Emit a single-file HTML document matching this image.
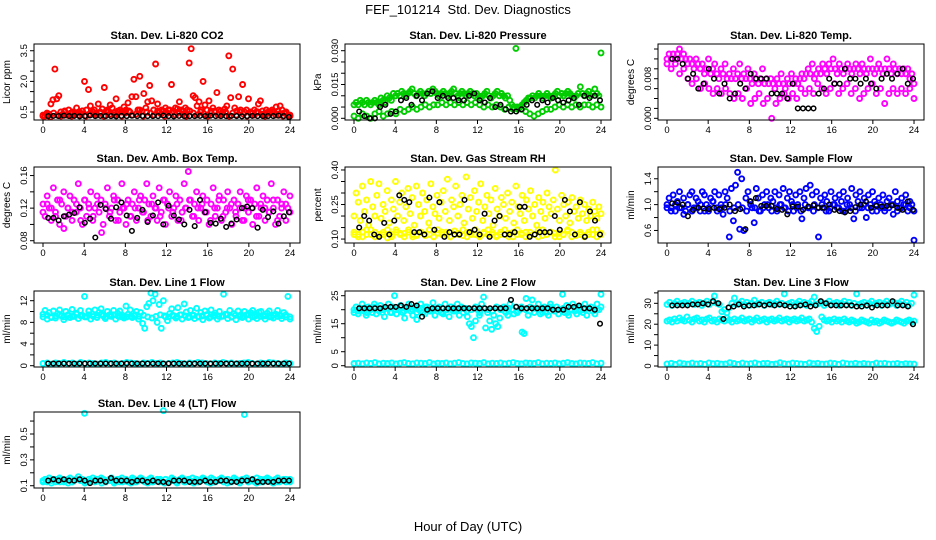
<!DOCTYPE html>
<html><head><meta charset="utf-8">
<style>
html,body{margin:0;padding:0;background:#fff;}
svg{display:block;font-family:"Liberation Sans",Arial,sans-serif;}
</style></head>
<body>
<svg id="chart" width="936" height="540" viewBox="0 0 936 540">
<text x="468" y="14" text-anchor="middle" font-size="13" xml:space="preserve">FEF_101214  Std. Dev. Diagnostics</text>
<text x="468" y="531" text-anchor="middle" font-size="13">Hour of Day (UTC)</text>
</svg>
<script>
// ---------- DATA ----------
const co2Red = [0.35,0.3,0.45,0.4,0.9,1.1,2.6,1.15,1.3,0.5,0.4,0.55,0.35,0.6,0.45,0.5,0.4,0.7,0.5,0.45,0.55,2.0,0.6,1.6,0.8,0.5,0.6,0.45,0.9,0.5,0.65,1.7,0.55,0.5,0.85,0.7,0.45,1.15,0.55,0.6,0.5,0.75,0.6,0.95,0.5,1.25,2.1,1.25,0.6,2.25,0.55,1.4,0.7,1.0,1.8,1.05,0.6,2.85,0.9,0.5,0.6,0.55,0.7,0.45,0.6,1.85,0.55,0.7,0.65,1.0,0.6,0.55,0.7,0.6,2.9,3.6,1.3,1.2,0.8,1.0,0.6,2.0,0.85,0.6,1.05,0.55,0.7,0.5,1.45,0.6,0.55,0.5,0.65,0.8,3.25,1.2,2.6,0.7,0.55,1.25,0.6,1.85,0.5,0.6,1.15,0.5,0.45,0.6,0.5,0.9,1.05,0.55,0.4,0.6,0.5,0.45,0.6,0.5,0.75,0.55,0.8,0.6,0.45,0.5,0.35,0.3];
const co2RedBase = [0.3,0.4,0.25,0.45,0.35,0.3,0.5,0.4,0.3,0.45,0.35,0.55,0.3,0.4,0.5,0.35,0.45,0.3,0.6,0.4,0.35,0.5,0.3,0.45,0.55,0.35,0.4,0.6,0.3,0.5,0.45,0.35,0.55,0.4,0.3,0.6,0.45,0.35,0.5,0.4,0.3,0.55,0.45,0.35,0.5,0.4,0.3,0.45,0.55,0.35,0.4,0.5,0.3,0.45,0.35,0.5,0.4,0.3,0.45,0.35,0.5,0.4,0.3,0.45,0.5,0.35,0.4,0.3,0.45,0.35];
const co2Black = [0.3,0.31,0.3,0.32,0.3,0.31,0.29,0.3,0.33,0.3,0.31,0.3,0.3,0.29,0.31,0.3,0.32,0.3,0.31,0.3,0.3,0.3,0.33,0.3,0.29,0.31,0.3,0.3,0.3,0.31,0.3,0.32,0.3,0.3,0.3,0.31,0.3,0.29,0.3,0.31,0.3,0.3,0.3,0.3,0.32,0.3,0.25];
const presGreenHi = [0.006,0.007,0.006,0.008,0.007,0.006,0.008,0.007,0.006,0.007,0.008,0.007,0.006,0.009,0.008,0.007,0.010,0.009,0.008,0.011,0.010,0.011,0.010,0.012,0.011,0.010,0.011,0.012,0.013,0.011,0.010,0.011,0.012,0.011,0.010,0.011,0.012,0.011,0.013,0.012,0.011,0.010,0.011,0.012,0.011,0.010,0.011,0.012,0.013,0.011,0.010,0.011,0.012,0.011,0.010,0.011,0.012,0.011,0.010,0.011,0.010,0.009,0.010,0.011,0.012,0.010,0.009,0.010,0.011,0.012,0.010,0.011,0.010,0.009,0.010,0.008,0.006,0.005,0.031,0.004,0.005,0.006,0.007,0.008,0.009,0.009,0.010,0.009,0.010,0.011,0.010,0.009,0.010,0.011,0.010,0.009,0.010,0.011,0.012,0.010,0.011,0.010,0.011,0.012,0.011,0.010,0.009,0.010,0.011,0.014,0.011,0.010,0.011,0.012,0.010,0.011,0.013,0.011,0.010,0.029];
const presGreenLo = [0.001,0.000,0.002,0.001,0.000,0.002,0.003,0.001,0.002,0.003,0.002,0.004,0.003,0.004,0.005,0.004,0.005,0.006,0.005,0.006,0.006,0.007,0.006,0.007,0.006,0.007,0.006,0.007,0.006,0.007,0.006,0.005,0.006,0.005,0.006,0.005,0.004,0.005,0.004,0.005,0.004,0.003,0.002,0.001,0.002,0.003,0.004,0.004,0.005,0.006,0.005,0.006,0.005,0.006,0.005,0.006,0.006,0.005,0.006,0.005];
const presBlack = [0.003,0.001,0.000,0.000,0.005,0.006,0.002,0.003,0.008,0.009,0.006,0.010,0.008,0.011,0.012,0.009,0.010,0.009,0.009,0.008,0.008,0.010,0.011,0.008,0.007,0.009,0.005,0.006,0.004,0.003,0.003,0.004,0.006,0.008,0.006,0.008,0.007,0.009,0.008,0.007,0.008,0.009,0.006,0.010,0.009,0.010,0.008];
const tempMagHi = [0.012,0.013,0.012,0.013,0.012,0.013,0.014,0.012,0.013,0.012,0.011,0.012,0.011,0.010,0.012,0.011,0.010,0.011,0.009,0.010,0.012,0.009,0.010,0.011,0.009,0.008,0.010,0.009,0.011,0.008,0.009,0.008,0.010,0.008,0.009,0.011,0.008,0.009,0.008,0.010,0.008,0.007,0.009,0.008,0.007,0.008,0.010,0.007,0.008,0.007,0.008,0.007,0.006,0.008,0.007,0.009,0.007,0.006,0.008,0.007,0.009,0.007,0.008,0.007,0.008,0.009,0.008,0.009,0.010,0.009,0.011,0.008,0.009,0.010,0.009,0.011,0.010,0.009,0.011,0.010,0.012,0.010,0.009,0.011,0.010,0.009,0.010,0.011,0.010,0.009,0.010,0.011,0.010,0.009,0.011,0.010,0.009,0.010,0.012,0.010,0.009,0.010,0.011,0.010,0.009,0.010,0.012,0.010,0.009,0.011,0.010,0.009,0.010,0.009,0.010,0.009,0.010,0.008,0.009,0.007];
const tempMagLo = [0.011,0.010,0.011,0.009,0.010,0.008,0.007,0.008,0.006,0.007,0.006,0.005,0.006,0.005,0.006,0.005,0.004,0.005,0.004,0.006,0.003,0.004,0.005,0.003,0.004,0.000,0.003,0.004,0.005,0.004,0.005,0.004,0.006,0.005,0.006,0.005,0.007,0.006,0.005,0.006,0.007,0.005,0.006,0.007,0.005,0.006,0.004,0.005,0.006,0.007,0.005,0.006,0.003,0.005,0.006,0.005,0.006,0.005,0.006,0.004];
const tempBlack = [0.012,0.012,0.011,0.008,0.009,0.006,0.007,0.010,0.008,0.005,0.007,0.004,0.005,0.007,0.006,0.009,0.008,0.008,0.008,0.005,0.005,0.005,0.004,0.007,0.002,0.002,0.002,0.002,0.005,0.006,0.008,0.007,0.007,0.010,0.008,0.008,0.007,0.008,0.007,0.006,0.008,0.009,0.008,0.009,0.010,0.007,0.008];
const boxMagA = [0.125,0.11,0.135,0.12,0.105,0.145,0.115,0.13,0.10,0.125,0.14,0.11,0.12,0.135,0.105,0.13,0.115,0.15,0.12,0.10,0.13,0.11,0.125,0.14,0.105,0.12,0.135,0.115,0.13,0.10,0.125,0.145,0.11,0.12,0.135,0.105,0.13,0.115,0.15,0.12,0.10,0.13,0.11,0.125,0.14,0.105,0.12,0.135,0.115,0.13,0.15,0.125,0.11,0.135,0.12,0.105,0.145,0.115,0.13,0.10,0.125,0.14,0.11,0.12,0.135,0.105,0.13,0.115,0.15,0.12,0.165,0.13,0.11,0.125,0.14,0.105,0.12,0.135,0.115,0.13,0.10,0.125,0.145,0.11,0.12,0.135,0.105,0.13,0.115,0.14,0.12,0.10,0.13,0.11,0.125,0.14,0.105,0.12,0.135,0.115,0.13,0.10,0.125,0.145,0.11,0.12,0.135,0.105,0.13,0.115,0.15,0.12,0.10,0.13,0.11,0.125,0.14,0.105,0.12,0.135];
const boxMagB = [0.115,0.125,0.12,0.11,0.13,0.095,0.12,0.115,0.125,0.105,0.13,0.12,0.11,0.125,0.09,0.12,0.115,0.13,0.105,0.12,0.125,0.11,0.12,0.13,0.115,0.105,0.125,0.12,0.11,0.13,0.12,0.115,0.125,0.105,0.12,0.13,0.11,0.12,0.125,0.115,0.105,0.12,0.13,0.11,0.12,0.125,0.115,0.12,0.105,0.13,0.12,0.11,0.125,0.12,0.115,0.13,0.105,0.12,0.125,0.115];
const boxBlack = [0.108,0.108,0.105,0.110,0.112,0.114,0.121,0.102,0.107,0.084,0.124,0.119,0.107,0.121,0.127,0.111,0.092,0.108,0.118,0.103,0.111,0.127,0.100,0.123,0.111,0.106,0.100,0.118,0.098,0.130,0.115,0.102,0.101,0.107,0.097,0.101,0.106,0.120,0.122,0.120,0.096,0.118,0.109,0.116,0.101,0.110,0.115];
const rhYellowScatter = [0.2,0.3,0.26,0.18,0.33,0.22,0.27,0.16,0.35,0.24,0.2,0.29,0.34,0.19,0.25,0.22,0.31,0.17,0.27,0.23,0.35,0.2,0.26,0.3,0.18,0.24,0.32,0.21,0.28,0.16,0.33,0.25,0.2,0.3,0.22,0.27,0.17,0.34,0.24,0.21,0.29,0.19,0.26,0.31,0.22,0.36,0.18,0.27,0.24,0.33,0.2,0.25,0.29,0.17,0.37,0.23,0.28,0.19,0.31,0.22,0.26,0.34,0.18,0.24,0.29,0.21,0.27,0.16,0.32,0.23,0.2,0.28,0.25,0.19,0.3,0.22,0.26,0.17,0.33,0.24,0.21,0.29,0.18,0.27,0.23,0.31,0.2,0.25,0.16,0.28,0.22,0.26,0.19,0.3,0.24,0.21,0.27,0.4,0.23,0.18,0.29,0.25,0.2,0.26,0.17,0.28,0.22,0.24,0.19,0.27,0.21,0.25,0.18,0.23,0.2,0.26,0.22,0.19,0.24,0.21];
const rhYellowBandA = [0.12,0.11,0.13,0.12,0.14,0.11,0.12,0.13,0.105,0.12,0.14,0.125,0.11,0.13,0.12,0.115,0.13,0.12,0.14,0.11,0.125,0.13,0.12,0.11,0.135,0.12,0.115,0.13,0.12,0.14,0.11,0.125,0.12,0.13,0.115,0.12,0.14,0.11,0.13,0.12,0.125,0.11,0.13,0.12,0.14,0.115,0.12,0.13,0.11,0.125,0.12,0.135,0.11,0.12,0.13,0.115,0.12,0.14,0.11,0.125];
const rhYellowBandB = [0.13,0.12,0.11,0.14,0.12,0.13,0.115,0.12,0.14,0.11,0.13,0.12,0.125,0.14,0.11,0.12,0.13,0.115,0.12,0.11,0.14,0.12,0.13,0.11,0.12,0.125,0.14,0.11,0.13,0.12,0.115,0.13,0.14,0.12,0.11,0.13,0.12,0.125,0.11,0.14,0.12,0.13,0.115,0.12,0.11,0.14,0.12,0.13,0.125,0.11,0.12,0.14,0.13,0.115,0.12,0.11,0.13,0.12,0.14,0.12];
const rhBlack = [0.15,0.20,0.18,0.12,0.11,0.17,0.12,0.18,0.29,0.27,0.26,0.13,0.13,0.12,0.28,0.14,0.26,0.11,0.13,0.12,0.12,0.27,0.13,0.14,0.12,0.21,0.11,0.18,0.20,0.12,0.12,0.13,0.24,0.24,0.11,0.12,0.13,0.13,0.13,0.20,0.14,0.27,0.22,0.12,0.26,0.11,0.22,0.18,0.12];
const flowBlueA = [1.0,1.1,0.95,1.15,0.9,1.05,1.2,0.95,1.1,0.9,1.0,1.15,1.2,0.95,1.1,1.05,0.9,1.2,1.15,1.0,0.9,1.1,1.05,1.2,0.95,1.15,1.0,0.85,1.2,1.1,0.5,1.25,0.75,1.3,1.5,0.62,1.4,0.6,1.1,1.2,1.05,0.95,0.72,1.25,1.1,0.9,1.15,1.0,1.2,0.95,1.1,1.05,1.2,0.9,1.15,1.0,1.25,0.95,1.1,1.2,1.05,0.9,1.15,1.0,1.2,0.78,1.1,1.25,0.95,1.3,1.15,1.0,1.2,0.5,1.1,0.95,1.15,1.05,0.9,1.2,1.0,1.1,0.95,1.15,1.05,1.2,0.9,1.1,1.0,1.25,0.78,1.15,1.05,1.2,0.95,1.1,0.8,1.15,1.0,1.2,1.05,0.9,1.1,1.0,1.15,0.95,1.05,1.1,1.0,0.85,1.2,1.05,0.95,1.1,1.0,1.15,0.9,1.05,1.0,0.45];
const flowBlueB = [0.95,0.9,1.0,0.95,0.85,1.0,0.9,0.95,1.0,0.9,0.95,1.05,0.9,0.95,1.0,0.9,0.95,1.0,0.95,0.9,1.0,0.95,0.9,0.95,1.0,0.9,0.95,1.0,0.95,0.9,1.0,0.95,0.9,1.0,0.95,0.9,0.95,1.0,0.9,0.95,1.0,0.95,0.9,1.0,0.95,0.9,0.95,1.0,0.95,0.9,1.0,0.95,0.9,0.95,1.0,0.9,0.95,1.0,0.95,0.9];
const flowBlack = [1.02,1.03,1.0,0.82,0.92,0.95,0.94,0.93,0.95,0.93,0.95,1.0,0.9,0.93,0.62,1.05,1.1,0.98,0.98,0.98,0.93,0.92,0.85,0.97,0.97,0.92,0.97,0.99,0.95,0.95,1.0,0.92,0.9,0.88,0.9,0.96,1.0,1.05,0.95,0.98,0.97,0.98,0.99,0.95,0.92,1.05,0.92];
const line1CyanA = [9.5,10.2,8.6,9.8,9.0,10.1,8.8,9.6,10.3,9.2,8.5,10.0,9.4,8.9,10.4,9.1,9.7,8.7,10.2,9.3,12.8,9.0,10.1,8.6,9.5,10.3,8.9,9.8,10.5,9.2,8.7,10.0,9.4,9.1,10.2,8.6,9.7,10.1,9.0,8.8,11.0,9.5,10.3,8.9,9.2,10.0,8.6,9.8,7.8,6.9,10.9,11.5,13.4,12.0,13.2,8.0,11.3,6.9,12.0,9.0,8.3,9.6,10.5,9.2,8.8,10.7,9.4,8.6,11.4,9.9,8.9,10.2,9.3,8.7,10.6,9.0,9.8,8.5,10.1,9.4,8.8,10.3,9.2,9.7,8.6,10.0,9.1,13.2,9.5,8.7,10.2,9.0,9.6,8.5,10.1,9.3,8.9,10.0,9.4,8.6,9.8,10.2,9.1,8.7,9.9,10.0,9.2,8.6,9.7,10.1,9.0,8.8,9.5,10.2,9.3,8.7,9.8,9.0,12.8,8.6];
const line1CyanB = [9.0,9.3,8.9,9.2,9.4,9.0,9.3,9.1,9.5,9.2,9.0,9.4,9.1,9.3,9.5,9.0,9.2,9.4,9.1,9.3,9.0,9.2,9.4,9.1,9.3,9.0,8.8,9.1,9.4,9.2,9.0,9.3,9.1,9.4,9.2,9.0,9.3,9.1,9.2,9.4,9.0,9.3,9.1,9.2,9.4,9.0,9.3,9.1,9.2,9.4,9.0,9.3,9.1,9.2,9.0,9.3,9.1,9.2,9.4,9.0];
const line1CyanLow = [0.4,0.5,0.3,0.5,0.4,0.6,0.4,0.5,0.3,0.6,0.4,0.5,0.4,0.3,0.5,0.6,0.4,0.5,0.3,0.4,0.6,0.5,0.4,0.3,0.5,0.4,0.6,0.4,0.5,0.3,0.4,0.5,0.6,0.4,0.3,0.5,0.4,0.6,0.5,0.4,0.3,0.5,0.4,0.6,0.4,0.5,0.3,0.4,0.5,0.6,0.4,0.3,0.5,0.4,0.6,0.5,0.4,0.3,0.5,0.4];
const line1Black = [0.4,0.4,0.4,0.4,0.4,0.4,0.4,0.4,0.4,0.4,0.4,0.4,0.4,0.4,0.4,0.4,0.4,0.4,0.4,0.4,0.4,0.4,0.4,0.4,0.4,0.4,0.4,0.4,0.4,0.4,0.4,0.4,0.4,0.4,0.4,0.4,0.4,0.4,0.4,0.4,0.4,0.4,0.4,0.4,0.4,0.4,0.4];
const line2CyanA = [19,21,18.5,20,22,19.5,18,21,20.5,19,22,18.5,20,21.5,19,17.5,20.5,22,19,21,25,18.5,20,21.5,19,17,20.5,22,19.5,18,21,16.5,20,22,19,18.5,21,20,19.5,22.5,18,20.5,21,19,18.5,22,20,17.5,21,19.5,20,22,18,21,19,20.5,17.5,15,14,10,16,20,18,22,24.5,13.5,19,16,13,18,15,14,17,20.5,21,19,18,22,20,18.5,21,19.5,20,12,11.5,24,18,21,23.5,19,20.5,22,18.5,20,21,19,18,22,20.5,19.5,21,18.5,20,25.5,19,21.5,18,20,22,19.5,18.5,21,20,19,22,18,20.5,21,19.5,18.5,22,20,25.5];
const line2CyanB = [20,19.5,20.5,19,20,21,19.5,20,20.5,19,20,21,19.5,20.5,20,19,20.5,21,19.5,20,20.5,19,20,21,19.5,20,20.5,19.5,20,21,19,20.5,20,19.5,21,20,19.5,20.5,20,19,21,20,19.5,20.5,20,19,20.5,21,19.5,20,20.5,19,20,21,19.5,20,20.5,19.5,20,21];
const line2CyanLow = [0.8,0.9,0.7,1.0,0.8,1.1,0.7,0.9,0.8,1.0,0.7,0.9,1.1,0.8,0.7,1.0,0.9,0.8,1.1,0.7,0.9,0.8,1.0,0.7,0.9,1.1,0.8,0.7,1.0,0.9,0.8,1.1,0.7,0.9,0.8,1.0,0.7,0.9,1.1,0.8,0.7,1.0,0.9,0.8,1.1,0.7,0.9,0.8,1.0,0.7,0.9,1.1,0.8,0.7,1.0,0.9,0.8,1.1,0.7,0.9];
const line2Black = [20.5,20.5,20.5,20.5,20.5,21,21,21,21.5,21,22,21.5,17.5,20,20.5,20.5,20.5,20.5,20.5,20.5,20.5,20.5,20.5,20.5,20.5,20.5,20.5,20.5,20.5,23.5,21,20.5,20.5,20.5,20.5,20.5,20.5,20,20,20,21,21,21.5,20.5,20.5,20,15];
const line3CyanTop = [29.5,30.5,29,30,31,29.5,30,30.5,29.5,30,31,29.5,30,30.5,29,30,31,29.5,30.5,33.5,30,29.5,26,27,25.5,28,30,32.5,29.5,30,31,29.5,30.5,29,30,31.5,29.5,30,30.5,29,30,30.5,29.5,30,31,29.5,30,34.5,29.5,30,30.5,29,30,31,29.5,30.5,29,30,31,33,29.5,30,30.5,29,30,31,29.5,30,30.5,29,30,31,29.5,30.5,29,30,34.5,29.5,30,30.5,29,30,31,29.5,30,30.5,29,30,31,29.5,30,30.5,29,30,31,29.5,30.5,29,30,34];
const line3CyanMid = [21.5,22,21,22.5,21.5,23,22,21.5,23.5,22,21,22.5,23,21.5,22,21,22.5,23,21.5,22,21,22.5,22,21.5,23,22,21,22.5,21.5,22,23,21.5,22,22.5,21,22,23,21.5,22,22.5,21,22,22.5,21.5,22,23,21.5,22,22.5,21,22,22.5,21.5,22,23,21.5,22,22.5,21,18,16.5,19,23.5,22,21.5,22,21,22.5,21.5,22,21,22.5,21.5,21,22,21.5,20.5,21,22,21.5,21,20.5,22,21,21.5,20.5,21,22,21.5,21,20.5,21,22,21.5,21,20.5,21.5,22,21,21.5];
const line3CyanLow = [1.0,1.3,0.8,1.5,1.1,0.9,1.4,1.0,1.2,0.8,1.5,1.1,1.3,0.9,1.0,1.6,1.2,0.8,1.4,1.0,1.1,1.5,0.9,1.2,1.3,0.8,1.0,1.6,1.1,0.9,1.4,1.2,1.0,0.8,1.5,1.1,1.3,0.9,1.0,1.4,1.2,0.8,1.5,1.1,1.0,1.3,0.9,1.2,1.0,0.8,1.4,1.1,1.3,0.9,1.0,1.2,0.8,1.1,1.0,0.9];
const line3Black = [29,29,29,29,29.5,29.5,30,29.5,31,30,22.5,28,28.5,29.5,28.5,29,29,29.5,29,29.5,29,29.5,29,28.5,28.5,29,29.5,28.5,29,31,30,29,29,29,29,29,28.5,28.5,29,28,29,29,29,31,29,29,28.5,20];
const line4CyanA = [0.14,0.15,0.13,0.16,0.14,0.15,0.13,0.14,0.16,0.15,0.13,0.14,0.15,0.16,0.13,0.14,0.15,0.17,0.14,0.15,0.66,0.13,0.15,0.14,0.16,0.13,0.15,0.14,0.16,0.15,0.13,0.14,0.15,0.16,0.13,0.14,0.15,0.13,0.16,0.14,0.15,0.13,0.14,0.16,0.15,0.13,0.14,0.16,0.15,0.13,0.14,0.15,0.16,0.13,0.14,0.15,0.13,0.14,0.68,0.15,0.13,0.14,0.16,0.15,0.13,0.14,0.15,0.16,0.13,0.14,0.15,0.13,0.16,0.14,0.15,0.13,0.14,0.16,0.15,0.13,0.14,0.16,0.15,0.13,0.14,0.15,0.16,0.13,0.14,0.15,0.13,0.14,0.16,0.15,0.13,0.14,0.15,0.65,0.16,0.13,0.14,0.15,0.13,0.16,0.14,0.15,0.13,0.14,0.16,0.15,0.13,0.14,0.15,0.16,0.13,0.14,0.15,0.13,0.14,0.15];
const line4CyanB = [0.13,0.14,0.12,0.15,0.13,0.14,0.12,0.13,0.15,0.14,0.12,0.13,0.14,0.15,0.12,0.13,0.14,0.12,0.15,0.13,0.14,0.12,0.13,0.15,0.14,0.12,0.13,0.14,0.15,0.12,0.13,0.14,0.12,0.15,0.13,0.14,0.12,0.13,0.15,0.14,0.12,0.13,0.14,0.15,0.12,0.13,0.14,0.12,0.15,0.13,0.14,0.12,0.13,0.15,0.14,0.12,0.13,0.14,0.15,0.13];
const line4Black = [0.14,0.15,0.14,0.15,0.14,0.14,0.15,0.14,0.12,0.14,0.14,0.13,0.16,0.14,0.14,0.14,0.13,0.14,0.14,0.13,0.14,0.13,0.13,0.12,0.14,0.14,0.14,0.13,0.13,0.13,0.14,0.13,0.13,0.14,0.14,0.13,0.13,0.14,0.14,0.15,0.13,0.13,0.13,0.13,0.14,0.14,0.14];

const xTicks = [0,4,8,12,16,20,24];
const co2Ticks = [0.5,1,1.5,2,2.5,3,3.5];       const co2Labels = ['0.5','','','2.0','','','3.5'];
const presTicks = [0,0.005,0.01,0.015,0.02,0.025,0.03]; const presLabels = ['0.000','','','0.015','','','0.030'];
const tempTicks = [0,0.002,0.004,0.006,0.008,0.01,0.012,0.014]; const tempLabels = ['0.000','','','','0.008','','',''];
const boxTicks = [0.08,0.1,0.12,0.14,0.16];     const boxLabels = ['0.08','','0.12','','0.16'];
const rhTicks = [0.1,0.15,0.2,0.25,0.3,0.35,0.4]; const rhLabels = ['0.10','','','0.25','','','0.40'];
const flowTicks = [0.6,0.8,1.0,1.2,1.4];        const flowLabels = ['0.6','','1.0','','1.4'];
const l1Ticks = [0,2,4,6,8,10,12];               const l1Labels = ['0','','4','','8','','12'];
const l2Ticks = [0,5,10,15,20,25];               const l2Labels = ['0','5','','15','','25'];
const l3Ticks = [0,5,10,15,20,25,30,35];         const l3Labels = ['0','','10','','20','','30',''];
const l4Ticks = [0.1,0.2,0.3,0.4,0.5,0.6];       const l4Labels = ['0.1','','0.3','','0.5',''];

// ---------- LAYOUT ----------
const colLeft = [34,345,658];
const rowTop = [44,167,291,412];
const BOXW = 266, BOXH = 76;
const XMIN = -0.875, XMAX = 24.97;

const panels = [
 {name:'co2',title:'Stan. Dev. Li-820 CO2',ylab:'Licor ppm',c:0,r:0,ymin:0.11,ymax:3.83,ticks:co2Ticks,labels:co2Labels,series:[[co2RedBase,'#ff0000'],[co2Red,'#ff0000']],black:co2Black},
 {name:'pressure',title:'Stan. Dev. Li-820 Pressure',ylab:'kPa',c:1,r:0,ymin:-0.00075,ymax:0.03297,ticks:presTicks,labels:presLabels,series:[[presGreenHi,'#00cc00'],[presGreenLo,'#00cc00']],black:presBlack},
 {name:'li820-temp',title:'Stan. Dev. Li-820 Temp.',ylab:'degrees C',c:2,r:0,ymin:-0.00034,ymax:0.01501,ticks:tempTicks,labels:tempLabels,series:[[tempMagHi,'#ff00ff'],[tempMagLo,'#ff00ff']],black:tempBlack},
 {name:'amb-box-temp',title:'Stan. Dev. Amb. Box Temp.',ylab:'degrees C',c:0,r:1,ymin:0.0772,ymax:0.1705,ticks:boxTicks,labels:boxLabels,series:[[boxMagA,'#ff00ff'],[boxMagB,'#ff00ff']],black:boxBlack},
 {name:'gas-stream-rh',title:'Stan. Dev. Gas Stream RH',ylab:'percent',c:1,r:1,ymin:0.0829,ymax:0.4129,ticks:rhTicks,labels:rhLabels,series:[[rhYellowScatter,'#ffff00'],[rhYellowBandA,'#ffff00'],[rhYellowBandB,'#ffff00']],black:rhBlack},
 {name:'sample-flow',title:'Stan. Dev. Sample Flow',ylab:'ml/min',c:2,r:1,ymin:0.406,ymax:1.582,ticks:flowTicks,labels:flowLabels,series:[[flowBlueA,'#0000ff'],[flowBlueB,'#0000ff']],black:flowBlack},
 {name:'line1-flow',title:'Stan. Dev. Line 1 Flow',ylab:'ml/min',c:0,r:2,ymin:-0.24,ymax:13.79,ticks:l1Ticks,labels:l1Labels,series:[[line1CyanA,'#00ffff'],[line1CyanB,'#00ffff'],[line1CyanLow,'#00ffff']],black:line1Black},
 {name:'line2-flow',title:'Stan. Dev. Line 2 Flow',ylab:'ml/min',c:1,r:2,ymin:-0.46,ymax:26.68,ticks:l2Ticks,labels:l2Labels,series:[[line2CyanA,'#00ffff'],[line2CyanB,'#00ffff'],[line2CyanLow,'#00ffff']],black:line2Black},
 {name:'line3-flow',title:'Stan. Dev. Line 3 Flow',ylab:'ml/min',c:2,r:2,ymin:-0.48,ymax:35.9,ticks:l3Ticks,labels:l3Labels,series:[[line3CyanTop,'#00ffff'],[line3CyanMid,'#00ffff'],[line3CyanLow,'#00ffff']],black:line3Black},
 {name:'line4-flow',title:'Stan. Dev. Line 4 (LT) Flow',ylab:'ml/min',c:0,r:3,ymin:0.0825,ymax:0.670,ticks:l4Ticks,labels:l4Labels,series:[[line4CyanA,'#00ffff'],[line4CyanB,'#00ffff']],black:line4Black}
];

const NS='http://www.w3.org/2000/svg';
const svg=document.getElementById('chart');
function mk(tag,attrs,parent){const e=document.createElementNS(NS,tag);for(const k in attrs)e.setAttribute(k,attrs[k]);(parent||svg).appendChild(e);return e;}

panels.forEach(p=>{
  const L=colLeft[p.c], T=rowTop[p.r], B=T+BOXH, R=L+BOXW;
  const xs=h=>L+(h-XMIN)/(XMAX-XMIN)*BOXW;
  const ys=v=>B-(v-p.ymin)/(p.ymax-p.ymin)*BOXH;
  const g=mk('g',{});
  
  
  const t=mk('text',{x:(L+R)/2,y:T-5,'text-anchor':'middle','font-size':'11','font-weight':'bold'},g);
  t.textContent=p.title;
  
  
  const yl=mk('text',{x:0,y:0,transform:`translate(${L-24},${T+BOXH/2}) rotate(-90)`,'text-anchor':'middle','font-size':'10'},g);
  yl.textContent=p.ylab;
  
  
  const mg=mk('g',{fill:'none'},g);
  
  
  p.series.forEach(([arr,col])=>{
    const n=arr.length;
    arr.forEach((v,i)=>{
      const h=i*24/(n-1);
      const c=mk('circle',{cx:xs(h).toFixed(1),cy:ys(v).toFixed(1),r:'2.5',stroke:col,'stroke-width':'1.9'},mg);
      
      
    });
  });
  const nb=p.black.length;
  p.black.forEach((v,i)=>{
    const h=0.5+i*23.4/(nb-1);
    const c=mk('circle',{cx:xs(h).toFixed(1),cy:ys(v).toFixed(1),r:'2.3',stroke:'#000','stroke-width':'1.5'},mg);
    
    
  });
  const bx=mk('rect',{x:L,y:T,width:BOXW,height:BOXH,fill:'none',stroke:'#000','stroke-width':'1'},g);
  
  
  xTicks.forEach(h=>{
    const x=xs(h);
    mk('line',{x1:x,x2:x,y1:B,y2:B+4,stroke:'#000'},g);
    const tl=mk('text',{x:x,y:B+13,'text-anchor':'middle','font-size':'9.5'},g);
    tl.textContent=String(h);
    
    
  });
  p.ticks.forEach((v,i)=>{
    const y=ys(v);
    mk('line',{x1:L-4,x2:L,y1:y,y2:y,stroke:'#000'},g);
    if(p.labels[i]){
      const tl=mk('text',{x:0,y:0,transform:`translate(${L-7},${y}) rotate(-90)`,'text-anchor':'middle','font-size':'9.5'},g);
      tl.textContent=p.labels[i];
      
      
    }
  });
});
</script>
</body></html>
